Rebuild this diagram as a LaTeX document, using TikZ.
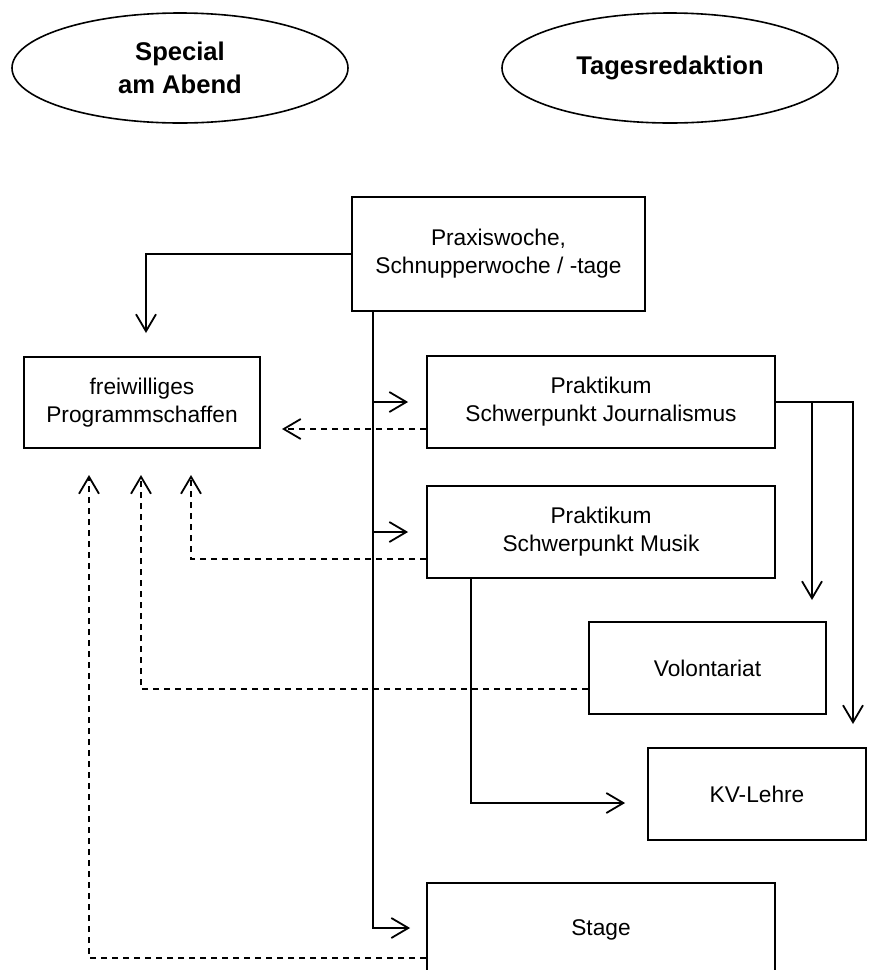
\documentclass[tikz,border=0pt]{standalone}
\usepackage{fontspec}
\setmainfont{Liberation Sans}
\usetikzlibrary{arrows.meta,shapes.geometric}
\newcommand{\FigBody}{\fontsize{11.35}{14}\selectfont}
\newcommand{\FigHead}{\fontsize{12.8}{16.5}\selectfont\bfseries}

\begin{document}
\begin{tikzpicture}[
  x=0.5pt, y=-0.5pt,
  font=\FigBody,
  blk/.style   = {draw, line width=0.9pt, minimum width=174pt, minimum height=46pt,
                  align=center, inner sep=2pt},
  dept/.style  = {draw, ellipse, line width=0.8pt, minimum width=168pt, minimum height=55pt,
                  align=center, inner sep=0pt, font=\FigHead},
  flow/.style  = {-{Straight Barb[length=8.5pt, width=10pt]}, line width=0.9pt},
  dflow/.style = {-{Straight Barb[length=8.5pt, width=10pt]}, line width=0.9pt,
                  dash pattern=on 3pt off 2.5pt},
]
\useasboundingbox (0,0) rectangle (873,970);
\clip (0,0) rectangle (873,970);

% ---------------------------------------------------------------- departments
\node[dept] (abend) at (180,68) {Special\\am Abend};
\node[dept] (tages) at (670,68) {Tagesredaktion};

% ---------------------------------------------------------------- boxes
\node[blk, minimum width=146.5pt, minimum height=57pt] (prax) at (498.5,254)
  {Praxiswoche,\\Schnupperwoche / -tage};
\node[blk, minimum width=118pt, minimum height=45.5pt] (frei) at (142,402.5)
  {freiwilliges\\Programmschaffen};
\node[blk] (journ) at (601,402) {Praktikum\\Schwerpunkt Journalismus};
\node[blk] (musik) at (601,532) {Praktikum\\Schwerpunkt Musik};
\node[blk, minimum width=118.5pt] (volo) at (707.5,668) {Volontariat};
\node[blk, minimum width=109pt] (kv) at (757,794) {KV-Lehre};
\node[blk, minimum height=47pt] (stage) at (601,930) {Stage};

% free ends of the arrows
\coordinate (trunk) at (373,311);
\coordinate (fTop)  at (146,333);
\coordinate (fJ)    at (282,429);
\coordinate (fM)    at (191,475);
\coordinate (fV)    at (141,475);
\coordinate (fS)    at (89,475);
\coordinate (voTop) at (812,600);
\coordinate (kvTop) at (853,724);

% ---------------------------------------------------------------- solid paths
\draw[flow] (prax.west) -| (fTop);
\draw[flow] (trunk) |- ([xshift=-8pt, yshift=1pt]stage.west);
\draw[flow] (trunk |- journ.west) -- ([xshift=-9pt]journ.west);
\draw[flow] (trunk |- musik.west) -- ([xshift=-9pt]musik.west);
\draw[flow] ([xshift=22.5pt]musik.south west) |- ([xshift=-11pt, yshift=-4.5pt]kv.west);
\draw[flow] (journ.east) -| (kvTop);
\draw[flow] (journ.east -| voTop) -- (voTop);

% ---------------------------------------------------------------- dashed returns
\draw[dflow] (journ.west |- fJ) -- (fJ);
\draw[dflow] ([yshift=-13.5pt]musik.west) -| (fM);
\draw[dflow] ([yshift=-10.5pt]volo.west) -| (fV);
\draw[dflow] ([yshift=-14pt]stage.west) -| (fS);

\end{tikzpicture}
\end{document}
